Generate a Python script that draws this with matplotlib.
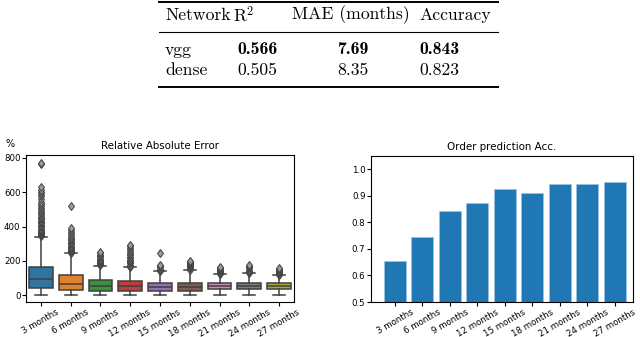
import matplotlib
matplotlib.use("Agg")
import matplotlib.pyplot as plt
from matplotlib.lines import Line2D

plt.rcParams['mathtext.fontset'] = 'cm'

# ---------------- data ----------------
categories = ["3 months", "6 months", "9 months", "12 months", "15 months",
              "18 months", "21 months", "24 months", "27 months"]

# box stats (percent)
q1 = [43, 31, 23, 23, 23, 23, 35, 35, 35]
med = [95, 66, 56, 54, 46, 50, 54, 54, 54]
q3 = [166, 118, 89, 85, 74, 74, 70, 74, 70]
whislo = [0, 0, 0, 0, 0, 0, 0, 0, 0]
whishi = [341, 244, 172, 163, 139, 147, 122, 128, 116]
fliers_3 = [345, 350, 356, 362, 368, 375, 381, 388, 395, 402, 410, 418, 425, 433,
            441, 450, 458, 467, 476, 486, 497, 508, 520, 532, 545, 560, 575, 590,
            600, 615, 628, 762, 772]
fliers_6 = [248, 253, 258, 264, 270, 276, 282, 289, 296, 303, 311, 319, 327, 336,
            345, 355, 366, 378, 390, 518]
fliers_9 = [176, 181, 186, 192, 199, 206, 213, 220, 228, 236, 244, 252]
fliers_12 = [167, 173, 179, 186, 193, 200, 208, 216, 225, 234, 243, 253, 263, 274,
             285, 293]
fliers_15 = [142, 148, 155, 162, 170, 178, 245]
fliers_18 = [150, 156, 162, 168, 175, 182, 189, 196, 202]
fliers_21 = [125, 130, 136, 142, 148, 154, 160, 166]
fliers_24 = [131, 137, 143, 150, 157, 164, 171, 178]
fliers_27 = [119, 124, 130, 136, 142, 148, 154, 160]
fliers = [fliers_3, fliers_6, fliers_9, fliers_12, fliers_15, fliers_18,
          fliers_21, fliers_24, fliers_27]

accuracy = [0.655, 0.745, 0.842, 0.872, 0.927, 0.909, 0.943, 0.945, 0.953]

box_colors = ["#3274a1", "#e1812c", "#3a923a", "#c03d3e", "#9372b2",
              "#845b53", "#d684bd", "#7f7f7f", "#a9aa35"]

table_header = ["Network", r"R$^2$", "MAE (months)", "Accuracy"]
table_rows = [["vgg", "0.566", "7.69", "0.843"],
              ["dense", "0.505", "8.35", "0.823"]]

# ---------------- figure ----------------
W, H = 640, 337
fig = plt.figure(figsize=(6.4, 3.37), dpi=100)

def fx(px):
    return px / W

def fy(py):
    return 1 - py / H

# table
tfs = 12.7
fig.text(fx(165), fy(15), table_header[0], family='cmr10', fontsize=tfs, va='center', ha='left')
fig.text(fx(233), fy(15), table_header[1], family='cmr10', fontsize=tfs, va='center', ha='left')
fig.text(fx(292), fy(15), table_header[2], family='cmr10', fontsize=tfs, va='center', ha='left')
fig.text(fx(419), fy(15), table_header[3], family='cmr10', fontsize=tfs, va='center', ha='left')

row_y = [50, 70]
for r, row in enumerate(table_rows):
    fam = 'cmb10' if r == 0 else 'cmr10'
    fig.text(fx(165), fy(row_y[r]), row[0], family='cmr10', fontsize=tfs, va='center', ha='left')
    fig.text(fx(237), fy(row_y[r]), row[1], family=fam, fontsize=tfs, va='center', ha='left')
    fig.text(fx(353), fy(row_y[r]), row[2], family=fam, fontsize=tfs, va='center', ha='center')
    fig.text(fx(419), fy(row_y[r]), row[3], family=fam, fontsize=tfs, va='center', ha='left')

for ypx, lw in [(2, 1.4), (32, 0.8), (87, 1.4)]:
    fig.add_artist(Line2D([fx(159), fx(498)], [fy(ypx), fy(ypx)], color='black',
                          lw=lw, transform=fig.transFigure))

# left: boxplot
ax1 = fig.add_axes([fx(26), fy(302), fx(294) - fx(26), fy(155) - fy(302)])
stats = []
for i in range(len(categories)):
    stats.append(dict(med=med[i], q1=q1[i], q3=q3[i], whislo=whislo[i],
                      whishi=whishi[i], fliers=fliers[i]))
gray = "#3f3f3f"
bp = ax1.bxp(stats, positions=range(len(categories)), widths=0.8,
             patch_artist=True, showfliers=True,
             boxprops=dict(edgecolor=gray, linewidth=1.1),
             whiskerprops=dict(color=gray, linewidth=1.1),
             capprops=dict(color=gray, linewidth=1.1),
             medianprops=dict(color=gray, linewidth=1.1),
             flierprops=dict(marker='d', markerfacecolor='#9a9a9a',
                             markeredgecolor=gray, markersize=4.5,
                             markeredgewidth=0.7, linestyle='none'))
for patch, c in zip(bp['boxes'], box_colors):
    patch.set_facecolor(c)
ax1.set_xlim(-0.5, 8.5)
ax1.set_ylim(-39, 816)
ax1.set_yticks([0, 200, 400, 600, 800])
ax1.set_xticks(range(len(categories)))
ax1.set_xticklabels(categories, rotation=30, ha='center')
ax1.tick_params(labelsize=6.2, length=3, width=0.8, pad=1)
ax1.set_title("Relative Absolute Error", fontsize=7.4, pad=4)
for s in ax1.spines.values():
    s.set_linewidth(0.8)
fig.text(fx(10), fy(144), "%", fontsize=7, ha='center', va='center')

# right: bar chart
ax2 = fig.add_axes([fx(371), fy(302), fx(633) - fx(371), fy(156) - fy(302)])
ax2.bar(range(len(categories)), accuracy, width=0.8, color="#1f77b4",
        edgecolor="#9cc3e4", linewidth=0.5)
ax2.set_ylim(0.5, 1.05)
ax2.set_xlim(-0.87, 8.66)
ax2.set_yticks([0.5, 0.6, 0.7, 0.8, 0.9, 1.0])
ax2.set_xticks(range(len(categories)))
ax2.set_xticklabels(categories, rotation=30, ha='center')
ax2.tick_params(labelsize=6.2, length=3, width=0.8, pad=1)
ax2.set_title("Order prediction Acc.", fontsize=7.4, pad=4)
for s in ax2.spines.values():
    s.set_linewidth(0.8)

fig.savefig("out.png", dpi=100)
